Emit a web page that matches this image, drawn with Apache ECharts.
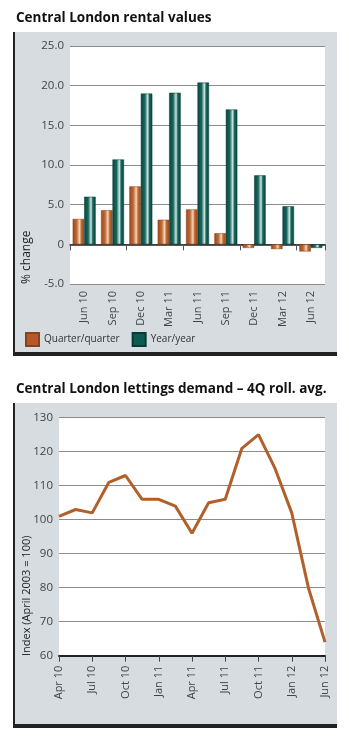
<!DOCTYPE html>
<html>
<head>
<meta charset="utf-8">
<script src="https://cdn.jsdelivr.net/npm/echarts@6/dist/echarts.min.js"></script>
<style>
html,body{margin:0;padding:0;background:#fff;}
#c{width:349px;height:741px;}
</style>
</head>
<body>
<div id="c"></div>
<script>
// ---- Chart 1: Central London rental values ----
const rentalCategories = ['Jun 10','Sep 10','Dec 10','Mar 11','Jun 11','Sep 11','Dec 11','Mar 12','Jun 12'];
const quarterOnQuarter = [3.2, 4.3, 7.3, 3.1, 4.4, 1.4, -0.45, -0.6, -0.9];
const yearOnYear = [6.0, 10.7, 19.0, 19.1, 20.4, 17.0, 8.7, 4.8, -0.45];
const rentalTicks = {min: -5, max: 25, interval: 5};

// ---- Chart 2: Central London lettings demand ----
const demandCategories = ['Apr 10','','Jul 10','','Oct 10','','Jan 11','','Apr 11','','Jul 11','','Oct 11','','Jan 12','','Jun 12'];
const demandIndex = [101, 103, 102, 111, 113, 106, 106, 104, 96, 105, 106, 121, 125, 115, 102, 80, 64];
const demandTicks = {min: 60, max: 130, interval: 10};

const FONT = '"Open Sans", "Noto Sans", sans-serif';
const ORANGE = '#b5592a';
const TEAL = '#0b5b52';
const PANEL = '#d6dcdf';

function grad(dark, mid, light) {
  return new echarts.graphic.LinearGradient(0, 0, 1, 0, [
    {offset: 0, color: dark},
    {offset: 0.35, color: mid},
    {offset: 0.6, color: light},
    {offset: 0.75, color: mid},
    {offset: 1, color: dark}
  ]);
}

const chart = echarts.init(document.getElementById('c'), null, {renderer: 'canvas'});
chart.setOption({
  animation: false,
  backgroundColor: '#fff',
  textStyle: {fontFamily: FONT},
  title: [
    {text: 'Central London rental values', left: 11, top: 6,
     textStyle: {fontFamily: FONT, fontWeight: 'bold', fontSize: 13.5, color: '#111'}},
    {text: 'Central London lettings demand \u2013 4Q roll. avg.', left: 11, top: 377,
     textStyle: {fontFamily: FONT, fontWeight: 'bold', fontSize: 13.5, color: '#111'}}
  ],
  graphic: [
    {type: 'rect', z: -10, shape: {x: 13, y: 32, width: 324, height: 321}, style: {fill: PANEL}},
    {type: 'rect', z: -9, shape: {x: 13, y: 32, width: 2, height: 321}, style: {fill: '#222'}},
    {type: 'rect', z: -9, shape: {x: 13, y: 352, width: 324, height: 4}, style: {fill: '#222'}},
    {type: 'rect', z: -10, shape: {x: 13, y: 403, width: 324, height: 322}, style: {fill: PANEL}},
    {type: 'rect', z: -9, shape: {x: 13, y: 403, width: 2, height: 322}, style: {fill: '#222'}},
    {type: 'rect', z: -9, shape: {x: 13, y: 724, width: 324, height: 4}, style: {fill: '#222'}},
    {type: 'text', x: 27, y: 284, rotation: Math.PI / 2,
     style: {text: '% change', fontFamily: FONT, fontSize: 12, fill: '#222', textAlign: 'left', textVerticalAlign: 'middle'}},
    {type: 'text', x: 27, y: 656, rotation: Math.PI / 2,
     style: {text: 'Index (April 2003 = 100)', fontFamily: FONT, fontSize: 11, fill: '#222', textAlign: 'left', textVerticalAlign: 'middle'}}
  ],
  legend: {
    left: 25, top: 332, padding: 0,
    itemWidth: 13, itemHeight: 13, itemGap: 12,
    icon: 'rect',
    textStyle: {fontFamily: FONT, fontSize: 10, color: '#333'},
    data: [
      {name: 'Quarter/quarter', itemStyle: {color: ORANGE}},
      {name: 'Year/year', itemStyle: {color: TEAL}}
    ]
  },
  grid: [
    {left: 70, right: 24, top: 46, height: 238, show: true, backgroundColor: '#fff', borderWidth: 0},
    {left: 59, right: 24, top: 417.7, height: 238, show: true, backgroundColor: '#fff', borderWidth: 0}
  ],
  xAxis: [
    {type: 'category', gridIndex: 0, data: rentalCategories, position: 'bottom',
     axisLine: {onZero: true, lineStyle: {color: '#222', width: 1.5}},
     axisTick: {show: true, length: 6, lineStyle: {color: '#555'}},
     axisLabel: {show: false}},
    {type: 'category', gridIndex: 1, data: demandCategories, boundaryGap: false,
     axisLine: {lineStyle: {color: '#222', width: 2}},
     axisTick: {show: true, length: 6, interval: 1, lineStyle: {color: '#444'}},
     axisLabel: {rotate: 90, margin: 10, interval: 0, fontSize: 11, color: '#444', fontFamily: FONT}},
    {type: 'category', gridIndex: 0, data: rentalCategories, position: 'bottom',
     axisLine: {show: false, onZero: false}, axisTick: {show: false},
     axisLabel: {rotate: 90, margin: 7, fontSize: 11, color: '#444', fontFamily: FONT}}
  ],
  yAxis: [
    {type: 'value', gridIndex: 0, min: rentalTicks.min, max: rentalTicks.max, interval: rentalTicks.interval,
     axisLine: {show: false}, axisTick: {show: false},
     splitLine: {lineStyle: {color: '#8c8c8c', width: 1}},
     axisLabel: {margin: 6, fontSize: 11.5, color: '#444', fontFamily: FONT,
       formatter: v => v === 0 ? '0' : v.toFixed(1)}},
    {type: 'value', gridIndex: 1, min: demandTicks.min, max: demandTicks.max, interval: demandTicks.interval,
     axisLine: {show: false}, axisTick: {show: false},
     splitLine: {lineStyle: {color: '#8c8c8c', width: 1}},
     axisLabel: {margin: 6, fontSize: 11.5, color: '#444', fontFamily: FONT}}
  ],
  series: [
    {name: 'Quarter/quarter', type: 'bar', xAxisIndex: 0, yAxisIndex: 0, data: quarterOnQuarter,
     barGap: '0%', barCategoryGap: '19%',
     itemStyle: {color: grad('#9a471a', '#c06a35', '#f4d6bb'), borderColor: '#8a4218', borderWidth: 0.5}},
    {name: 'Year/year', type: 'bar', xAxisIndex: 0, yAxisIndex: 0, data: yearOnYear,
     barGap: '0%', barCategoryGap: '19%',
     itemStyle: {color: grad('#08463f', '#17665c', '#cfe8e4'), borderColor: '#063b35', borderWidth: 0.5}},
    {name: 'Lettings demand', type: 'line', xAxisIndex: 1, yAxisIndex: 1, data: demandIndex,
     showSymbol: false, lineStyle: {color: '#b2602b', width: 3}, z: 5}
  ]
});
</script>
</body>
</html>
